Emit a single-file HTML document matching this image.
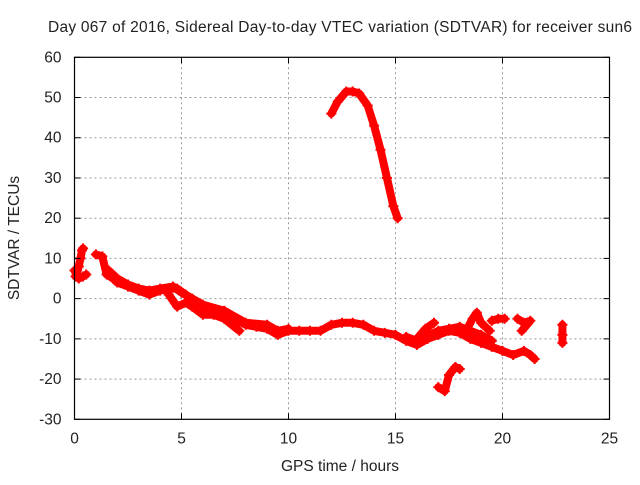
<!DOCTYPE html>
<html><head><meta charset="utf-8"><style>
body{margin:0;background:#fff}
svg text{font-family:"Liberation Sans",sans-serif;font-size:15.5px;fill:#222}
</style></head><body>
<svg id="chart" width="640" height="480">
<text x="340" y="32" text-anchor="middle" textLength="584">Day 067 of 2016, Sidereal Day-to-day VTEC variation (SDTVAR) for receiver sun6</text>
<g id="grid"></g><g id="series"></g><g id="axes"></g>
<text x="340" y="471" text-anchor="middle">GPS time / hours</text>
<text transform="translate(19,238) rotate(-90)" text-anchor="middle">SDTVAR / TECUs</text>
</svg>
<script>
const xTicks=[0,5,10,15,20,25];
const yTicks=[-30,-20,-10,0,10,20,30,40,50,60];
const traceHook=[[0,7],[0.1,6],[0.2,8],[0.28,10],[0.35,12],[0.4,12.5]];
const traceHookLow=[[0.05,5.5],[0.2,5],[0.4,5.5],[0.55,6]];
const traceMain=[[1,11],[1.3,10.5],[1.5,6],[1.8,5],[2,4],[2.5,3],[3,2],[3.5,1],[4,2],[4.5,2.5],[4.8,2.5],[5.2,1],[5.5,0],[6,-2],[6.5,-3],[7,-4],[7.5,-5],[8,-6.5],[8.5,-7],[9,-7.5],[9.5,-9],[10,-8],[10.5,-8],[11,-8],[11.5,-8],[12,-6.5],[12.5,-6],[13,-6],[13.5,-6.5],[14,-8],[14.5,-8.5],[15,-9],[15.5,-10.5],[16,-11.5],[16.5,-10],[17,-9],[17.5,-8],[18,-8.5],[18.5,-10],[19,-11],[19.5,-12],[20,-13],[20.5,-14],[21,-13],[21.3,-14],[21.5,-15]];
const traceMain2=[[1.6,7],[2,5],[2.5,3.5],[3,2.5],[3.5,2],[4,2.5],[4.6,3],[5,1.5],[6,-1.5],[7,-3],[8,-6],[9,-6.5],[9.5,-8],[10,-7.5]];
const traceMain3=[[15.5,-9.5],[16,-10.5],[17,-8],[17.5,-7.5],[18,-7],[18.5,-8],[19,-9],[19.5,-10.5]];
const traceLoop=[[4.4,1],[4.8,-2],[5.2,-1],[5.5,-2],[6,-4],[6.5,-4],[7,-5],[7.7,-8]];
const tracePeak=[[12,46],[12.3,49],[12.7,51.5],[13,51.5],[13.3,51],[13.7,48],[14,43],[14.3,37],[14.6,30],[14.9,23],[15.1,20]];
const traceLow=[[17,-22],[17.3,-23],[17.5,-19],[17.8,-17],[18,-17.5]];
const traceSpikeA=[[16,-10],[16.4,-7.5],[16.8,-6]];
const traceSpikeB=[[18.3,-8],[18.6,-5],[18.8,-3.5],[19,-6],[19.4,-8]];
const traceSpikeC=[[19.5,-5.5],[19.8,-5],[20.1,-5]];
const traceSpikeD=[[20.7,-5],[21,-6],[21.3,-5.5],[20.9,-8]];
const traceSpikeE=[[22.8,-6.5],[22.8,-9],[22.8,-11]];
const traces=[traceHook,traceHookLow,traceMain,traceMain2,traceMain3,traceLoop,tracePeak,traceLow,traceSpikeA,traceSpikeB,traceSpikeC,traceSpikeD,traceSpikeE];
const L=74.5,R=609.5,T=57.3,B=419.3;
const sx=v=>L+(v-0)/(25-0)*(R-L);
const sy=v=>B-(v+30)/90*(B-T);
const NS='http://www.w3.org/2000/svg';
function mk(t,a,p){const e=document.createElementNS(NS,t);for(const k in a)e.setAttribute(k,a[k]);p.appendChild(e);return e;}
const grid=document.getElementById('grid'),axes=document.getElementById('axes'),ser=document.getElementById('series');
xTicks.forEach(v=>{const x=sx(v);
 if(v>0&&v<25){const g=mk('line',{x1:x,x2:x,y1:T,y2:B,stroke:'#999','stroke-dasharray':'2,3'},grid);}
 mk('line',{x1:x,x2:x,y1:B,y2:B-6,stroke:'#000'},axes);mk('line',{x1:x,x2:x,y1:T,y2:T+6,stroke:'#000'},axes);
 const t=mk('text',{x:x,y:B+24,'text-anchor':'middle'},axes);t.textContent=v;
 });
yTicks.forEach(v=>{const y=sy(v);
 if(v>-30&&v<60){const g=mk('line',{x1:L,x2:R,y1:y,y2:y,stroke:'#999','stroke-dasharray':'2,3'},grid);}
 mk('line',{x1:L,x2:L+6,y1:y,y2:y,stroke:'#000'},axes);mk('line',{x1:R,x2:R-6,y1:y,y2:y,stroke:'#000'},axes);
 const t=mk('text',{x:L-13,y:y+5,'text-anchor':'end'},axes);t.textContent=v;
 });
const fr=mk('rect',{x:L,y:T,width:R-L,height:B-T,fill:'none',stroke:'#000','stroke-width':1.2},axes);

traces.forEach(tr=>{
 const p=mk('polyline',{points:tr.map(d=>sx(d[0])+','+sy(d[1])).join(' '),fill:'none',stroke:'#f00','stroke-width':8,'stroke-linejoin':'round','stroke-linecap':'round'},ser);
 
 tr.forEach(d=>{const x=sx(d[0]),y=sy(d[1]);
  const m=mk('path',{d:`M${x-5},${y}H${x+5}M${x},${y-5}V${y+5}`,stroke:'#f00','stroke-width':2},ser);
  });
});
</script>
</body></html>
